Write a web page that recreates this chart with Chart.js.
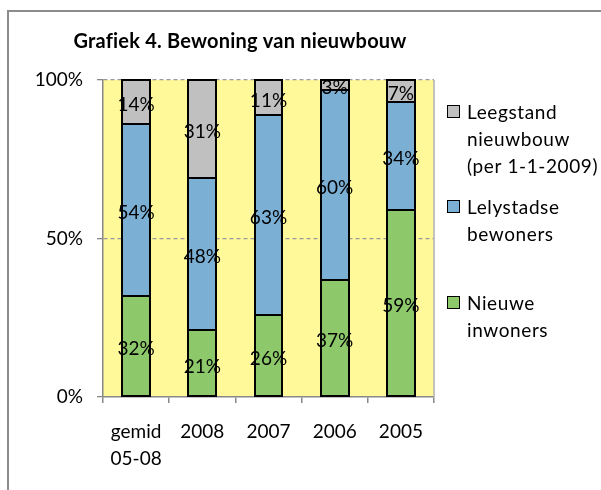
<!DOCTYPE html>
<html>
<head>
<meta charset="utf-8">
<script src="https://cdn.jsdelivr.net/npm/chart.js@4.4.0/dist/chart.umd.min.js"></script>
<style>
html, body { margin: 0; padding: 0; background: #fff; }
#wrap { width: 601px; height: 490px; }
</style>
</head>
<body>
<div id="wrap"><canvas id="grafiek" width="601" height="490"></canvas></div>
<script>
// gegevens
let categorieen = [['gemid', '05-08'], '2008', '2007', '2006', '2005']
let nieuweInwoners = [32, 21, 26, 37, 59]
let lelystadseBewoners = [54, 48, 63, 60, 34]
let leegstand = [14, 31, 11, 3, 7]
let yTicks = [0, 50, 100]
let titel = 'Grafiek 4. Bewoning van nieuwbouw'
let legendaTeksten = [['Nieuwe', 'inwoners'], ['Lelystadse', 'bewoners'], ['Leegstand', 'nieuwbouw', '(per 1-1-2009)']]

let lettertype = 'Lato, "Open Sans", sans-serif'

// achtergrond, kader en titel
let achtergrond = {
    id: 'achtergrond',
    beforeDraw(chart) {
        let ctx = chart.ctx
        let ca = chart.chartArea
        ctx.save()
        ctx.fillStyle = '#FFF99A'
        ctx.fillRect(ca.left, ca.top, ca.right - ca.left, ca.bottom - ca.top)
        // buitenkader
        ctx.strokeStyle = '#8c8c8c'
        ctx.lineWidth = 2
        ctx.beginPath()
        ctx.moveTo(8, 490)
        ctx.lineTo(8, 11)
        ctx.lineTo(601, 11)
        ctx.stroke()
        // titel
        ctx.fillStyle = '#000'
        ctx.font = 'bold 20px ' + lettertype
        ctx.letterSpacing = '0.2px'
        ctx.textAlign = 'center'
        ctx.textBaseline = 'middle'
        ctx.fillText(titel, 240, 42)
        ctx.restore()
    },
    afterDatasetsDraw(chart) {
        let ctx = chart.ctx
        let ca = chart.chartArea
        ctx.save()
        // rechterrand plotgebied
        ctx.strokeStyle = '#b0b0b0'
        ctx.lineWidth = 1.5
        ctx.beginPath()
        ctx.moveTo(ca.right, ca.top)
        ctx.lineTo(ca.right, ca.bottom)
        ctx.stroke()

        // zwarte randen om de staafdelen
        ctx.strokeStyle = '#000'
        ctx.lineWidth = 2
        chart.data.datasets.forEach((ds, i) => {
            chart.getDatasetMeta(i).data.forEach((bar) => {
                let links = Math.round(bar.x - bar.width / 2)
                let rechts = Math.round(bar.x + bar.width / 2)
                let boven = Math.round(bar.y)
                let onder = Math.round(bar.base)
                ctx.strokeRect(links, boven, rechts - links, onder - boven)
            })
        })

        // waarden in de staven
        ctx.fillStyle = '#000'
        ctx.font = '19px ' + lettertype
        ctx.textAlign = 'center'
        ctx.textBaseline = 'middle'
        chart.data.datasets.forEach((ds, i) => {
            let meta = chart.getDatasetMeta(i)
            meta.data.forEach((bar, j) => {
                let midden = (bar.y + bar.base) / 2 + 3
                ctx.fillText(ds.data[j] + '%', bar.x, midden)
            })
        })

        // legenda
        let legendaY = [303, 207, 112]
        ctx.textAlign = 'left'
        ctx.letterSpacing = '0.6px'
        chart.data.datasets.forEach((ds, i) => {
            let y = legendaY[i]
            ctx.fillStyle = ds.backgroundColor
            ctx.fillRect(447, y - 7, 13, 13)
            ctx.strokeStyle = '#000'
            ctx.lineWidth = 1
            ctx.strokeRect(447.5, y - 6.5, 12, 12)
            ctx.fillStyle = '#000'
            legendaTeksten[i].forEach((regel, k) => {
                ctx.fillText(regel, 467, y + 1 + k * 27)
            })
        })
        ctx.restore()
    }
}

let ctx = document.getElementById('grafiek').getContext('2d')
new Chart(ctx, {
    type: 'bar',
    data: {
        labels: categorieen,
        datasets: [{
            label: 'Nieuwe inwoners',
            data: nieuweInwoners,
            backgroundColor: '#8DC96A'
        }, {
            label: 'Lelystadse bewoners',
            data: lelystadseBewoners,
            backgroundColor: '#7BAFD4'
        }, {
            label: 'Leegstand nieuwbouw (per 1-1-2009)',
            data: leegstand,
            backgroundColor: '#C0C0C0'
        }]
    },
    options: {
        responsive: false,
        devicePixelRatio: 1,
        animation: false,
        datasets: {
            bar: {
                borderWidth: 0,
                inflateAmount: 0,
                categoryPercentage: 1,
                barPercentage: 0.42
            }
        },
        layout: {
            padding: { left: 0, top: 80, right: 167, bottom: 0 }
        },
        plugins: {
            legend: { display: false },
            title: { display: false },
            tooltip: { enabled: false }
        },
        scales: {
            x: {
                stacked: true,
                offset: true,
                grid: {
                    drawOnChartArea: false,
                    drawTicks: true,
                    tickLength: 6,
                    tickColor: '#888',
                    lineWidth: 1.5
                },
                border: { display: true, color: '#888', width: 1.5 },
                ticks: {
                    color: '#000',
                    font: { family: lettertype, size: 19, lineHeight: 1.4 },
                    padding: 16,
                    maxRotation: 0,
                    autoSkip: false
                },
                afterFit: (scale) => { scale.height = 93 }
            },
            y: {
                stacked: true,
                min: 0,
                max: 100,
                afterBuildTicks: (scale) => {
                    scale.ticks = yTicks.map(v => ({ value: v }))
                },
                grid: {
                    color: (c) => (c.tick && c.tick.value === 0) ? 'rgba(0,0,0,0)' : '#9a9a9a',
                    tickColor: '#888',
                    tickLength: 6,
                    lineWidth: 1.3
                },
                border: { display: true, color: '#888', width: 1.5, dash: [4, 3] },
                ticks: {
                    color: '#000',
                    font: { family: lettertype, size: 19 },
                    padding: 14,
                    callback: (v) => v + '%'
                },
                afterFit: (scale) => { scale.width = 103 }
            }
        }
    },
    plugins: [achtergrond]
})
</script>
</body>
</html>
